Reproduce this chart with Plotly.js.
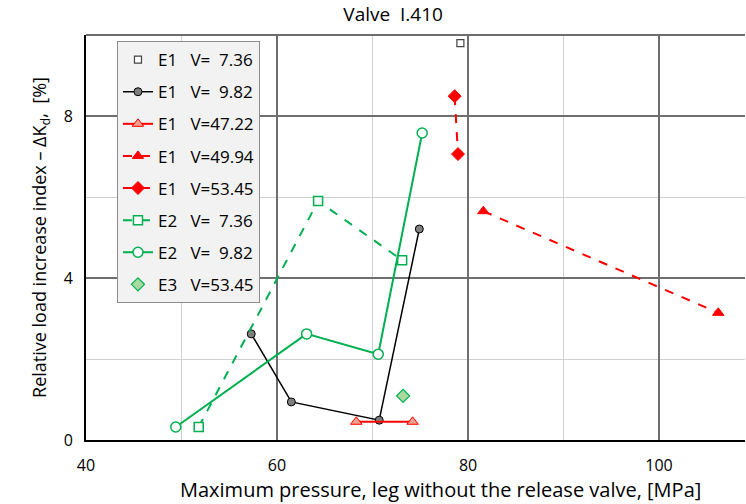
<!DOCTYPE html>
<html>
<head>
<meta charset="utf-8">
<script src="https://cdn.plot.ly/plotly-3.0.1.min.js"></script>
<style>html,body{margin:0;padding:0;background:#fff;}#chart{width:746px;height:504px;}</style>
</head>
<body>
<div id="chart"></div>
<script>
// Data
const names = [
  "E1\u00a0\u00a0\u00a0V=\u00a0\u00a07.36",
  "E1\u00a0\u00a0\u00a0V=\u00a0\u00a09.82",
  "E1\u00a0\u00a0\u00a0V=47.22",
  "E1\u00a0\u00a0\u00a0V=49.94",
  "E1\u00a0\u00a0\u00a0V=53.45",
  "E2\u00a0\u00a0\u00a0V=\u00a0\u00a07.36",
  "E2\u00a0\u00a0\u00a0V=\u00a0\u00a09.82",
  "E3\u00a0\u00a0\u00a0V=53.45"
];
const xTitle = 'Maximum pressure, leg without the release valve, [MPa]';
const yTitle = 'Relative load increase index \u2013 \u0394K<sub>d</sub>,\u00a0\u00a0[%]';
const chartTitle = 'Valve\u00a0\u00a0I.410';

const e1_736_x = [79.2];
const e1_736_y = [9.8];
const e1_982_x = [57.3, 61.5, 70.7, 74.9];
const e1_982_y = [2.62, 0.94, 0.49, 5.21];
const e1_4722_x = [68.3, 74.2];
const e1_4722_y = [0.45, 0.45];
const e1_4994_x = [81.6, 106.2];
const e1_4994_y = [5.65, 3.14];
const e1_5345_x = [78.6, 78.95];
const e1_5345_y = [8.49, 7.06];
const e2_736_x = [51.8, 64.3, 73.1];
const e2_736_y = [0.32, 5.9, 4.44];
const e2_982_x = [49.4, 63.1, 70.6, 75.2];
const e2_982_y = [0.32, 2.62, 2.12, 7.58];
const e3_5345_x = [73.2];
const e3_5345_y = [1.09];

const GREEN = '#00b050';
const RED = '#ff0000';

const traces = [
  {x: e1_736_x, y: e1_736_y, name: names[0], mode: 'markers',
   marker: {symbol: 'square', size: 7, color: '#ffffff', line: {color: '#444444', width: 1.2}}},
  {x: e1_982_x, y: e1_982_y, name: names[1], mode: 'lines+markers',
   line: {color: '#000000', width: 1.5},
   marker: {symbol: 'circle', size: 8, color: '#7f7f7f', line: {color: '#000000', width: 1}}},
  {x: e1_4722_x, y: e1_4722_y, name: names[2], mode: 'lines+markers',
   line: {color: RED, width: 2},
   marker: {symbol: 'triangle-up', size: 10, color: '#f4a08a', line: {color: RED, width: 1}}},
  {x: e1_4994_x, y: e1_4994_y, name: names[3], mode: 'lines+markers',
   line: {color: RED, width: 2, dash: 'dash'},
   marker: {symbol: 'triangle-up', size: 10, color: RED, line: {color: RED, width: 1}}},
  {x: e1_5345_x, y: e1_5345_y, name: names[4], mode: 'lines+markers',
   line: {color: RED, width: 2, dash: 'dash'},
   marker: {symbol: 'diamond', size: 10, color: RED, line: {color: RED, width: 1}}},
  {x: e2_736_x, y: e2_736_y, name: names[5], mode: 'lines+markers',
   line: {color: GREEN, width: 2, dash: 'dash'},
   marker: {symbol: 'square', size: 9, color: '#ffffff', line: {color: GREEN, width: 1.5}}},
  {x: e2_982_x, y: e2_982_y, name: names[6], mode: 'lines+markers',
   line: {color: GREEN, width: 2},
   marker: {symbol: 'circle', size: 10, color: '#ffffff', line: {color: GREEN, width: 1.5}}},
  {x: e3_5345_x, y: e3_5345_y, name: names[7], mode: 'markers',
   marker: {symbol: 'diamond', size: 10, color: '#a9d9a0', line: {color: GREEN, width: 1.2}}}
];
traces.forEach((t, i) => { t.type = 'scatter'; t.legendgroup = 'g' + i; });

const FONT = 'Open Sans, Noto Sans, sans-serif';

const layout = {
  width: 746, height: 504,
  margin: {l: 86, r: 1, t: 35, b: 64},
  paper_bgcolor: '#ffffff', plot_bgcolor: '#ffffff',
  font: {family: FONT, color: '#000000', size: 16},
  title: {text: chartTitle, xref: 'container', x: 0.527, xanchor: 'center', y: 0.985, yanchor: 'top',
          font: {family: FONT, size: 19, color: '#000000'}},
  xaxis: {
    range: [40, 109], dtick: 20, tick0: 40, ticks: '', showline: true, linecolor: '#000000', linewidth: 2,
    showgrid: true, gridcolor: '#6e6e6e', gridwidth: 1.5, zeroline: false,
    minor: {dtick: 10, tick0: 40, showgrid: true, gridcolor: '#d0d0d0', gridwidth: 1, ticks: ''},
    tickfont: {family: FONT, size: 16, color: '#000000'},
    ticklabelstandoff: 10
  },
  yaxis: {
    range: [0, 10], dtick: 4, tick0: 0, ticks: '', showline: true, linecolor: '#000000', linewidth: 2,
    showgrid: true, gridcolor: '#6e6e6e', gridwidth: 1.5, zeroline: false,
    minor: {dtick: 2, tick0: 0, showgrid: true, gridcolor: '#d0d0d0', gridwidth: 1, ticks: ''},
    tickfont: {family: FONT, size: 16, color: '#000000'},
    ticklabelstandoff: 8,
    title: {text: yTitle, standoff: 12,
            font: {family: FONT, size: 18, color: '#000000'}}
  },
  annotations: [
    {text: xTitle, xref: 'paper', yref: 'paper', x: (440 - 86) / 659, y: 0, yshift: -49,
     xanchor: 'center', yanchor: 'middle', showarrow: false,
     font: {family: FONT, size: 20, color: '#000000'}}
  ],
  shapes: [
    {type: 'line', xref: 'paper', yref: 'paper', x0: 0, x1: 1, y0: 1, y1: 1,
     line: {color: '#6e6e6e', width: 2}}
  ],
  showlegend: true,
  legend: {
    x: 0.047, y: 0.985, xanchor: 'left', yanchor: 'top',
    bgcolor: '#f2f2f2', bordercolor: '#8c8c8c', borderwidth: 1,
    font: {family: FONT, size: 17, color: '#000000'},
    traceorder: 'grouped', tracegroupgap: 7, itemwidth: 30
  }
};

Plotly.newPlot('chart', traces, layout, {displayModeBar: false, staticPlot: true});
</script>
</body>
</html>
